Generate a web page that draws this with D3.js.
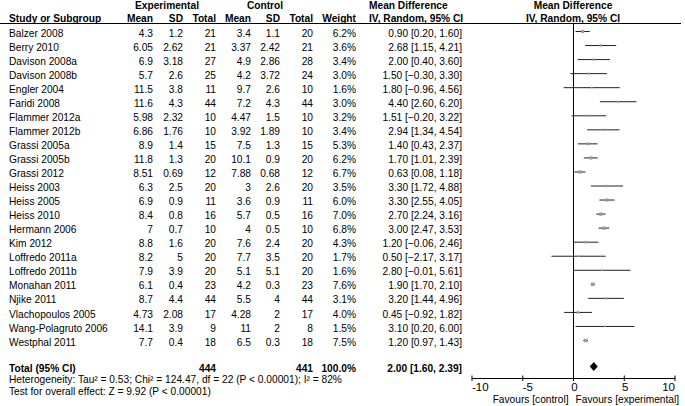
<!DOCTYPE html>
<html>
<head>
<meta charset="utf-8">
<script src="https://cdn.jsdelivr.net/npm/d3@7"></script>
<style>
  body { margin: 0; background: #fff; }
  text { font-family: "Liberation Sans", Arial, sans-serif; font-size: 10.2px; fill: #000; }
  .b { font-weight: bold; }
</style>
</head>
<body>
<div id="vis"></div>
<script>
"use strict";
const [width, height] = [685, 406];

// data
const studies = ["Balzer 2008", "Berry 2010", "Davison 2008a", "Davison 2008b", "Engler 2004", "Faridi 2008",
  "Flammer 2012a", "Flammer 2012b", "Grassi 2005a", "Grassi 2005b", "Grassi 2012", "Heiss 2003", "Heiss 2005",
  "Heiss 2010", "Hermann 2006", "Kim 2012", "Loffredo 2011a", "Loffredo 2011b", "Monahan 2011", "Njike 2011",
  "Vlachopoulos 2005", "Wang-Polagruto 2006", "Westphal 2011"];
const expMean = [4.3, 6.05, 6.9, 5.7, 11.5, 11.6, 5.98, 6.86, 8.9, 11.8, 8.51, 6.3, 6.9, 8.4, 7, 8.8, 8.2, 7.9, 6.1, 8.7, 4.73, 14.1, 7.7];
const expSD   = [1.2, 2.62, 3.18, 2.6, 3.8, 4.3, 2.32, 1.76, 1.4, 1.3, 0.69, 2.5, 0.9, 0.8, 0.7, 1.6, 5, 3.9, 0.4, 4.4, 2.08, 3.9, 0.4];
const expN    = [21, 21, 27, 25, 11, 44, 10, 10, 15, 20, 12, 20, 11, 16, 10, 20, 20, 20, 23, 44, 17, 9, 18];
const ctlMean = [3.4, 3.37, 4.9, 4.2, 9.7, 7.2, 4.47, 3.92, 7.5, 10.1, 7.88, 3, 3.6, 5.7, 4, 7.6, 7.7, 5.1, 4.2, 5.5, 4.28, 11, 6.5];
const ctlSD   = [1.1, 2.42, 2.86, 3.72, 2.6, 4.3, 1.5, 1.89, 1.3, 0.9, 0.68, 2.6, 0.9, 0.5, 0.5, 2.4, 3.5, 5.1, 0.3, 4, 2, 2, 0.3];
const ctlN    = [20, 21, 28, 24, 10, 44, 10, 10, 15, 20, 12, 20, 11, 16, 10, 20, 20, 20, 23, 44, 17, 8, 18];
const weight  = [6.2, 3.6, 3.4, 3.0, 1.6, 3.0, 3.2, 3.4, 5.3, 6.2, 6.7, 3.5, 6.0, 7.0, 6.8, 4.3, 1.7, 1.6, 7.6, 3.1, 4.0, 1.5, 7.5];
const md      = [0.90, 2.68, 2.00, 1.50, 1.80, 4.40, 1.51, 2.94, 1.40, 1.70, 0.63, 3.30, 3.30, 2.70, 3.00, 1.20, 0.50, 2.80, 1.90, 3.20, 0.45, 3.10, 1.20];
const ciLo    = [0.20, 1.15, 0.40, -0.30, -0.96, 2.60, -0.20, 1.34, 0.43, 1.01, 0.08, 1.72, 2.55, 2.24, 2.47, -0.06, -2.17, -0.01, 1.70, 1.44, -0.92, 0.20, 0.97];
const ciHi    = [1.60, 4.21, 3.60, 3.30, 4.56, 6.20, 3.22, 4.54, 2.37, 2.39, 1.18, 4.88, 4.05, 3.16, 3.53, 2.46, 3.17, 5.61, 2.10, 4.96, 1.82, 6.00, 1.43];
const totalN = [444, 441];
const totalWeight = 100.0;
const pooled = [2.00, 1.60, 2.39]; // md, lo, hi
const heterogeneity = "Heterogeneity: Tau\u00b2 = 0.53; Chi\u00b2 = 124.47, df = 22 (P < 0.00001); I\u00b2 = 82%";
const overall = "Test for overall effect: Z = 9.92 (P < 0.00001)";
const ticks = [-10, -5, 0, 5, 10];
const favours = ["Favours [control]", "Favours [experimental]"];

const rows = studies.map((s, i) => ({
  name: s, em: expMean[i], es: expSD[i], en: expN[i], cm: ctlMean[i], cs: ctlSD[i], cn: ctlN[i],
  w: weight[i], md: md[i], lo: ciLo[i], hi: ciHi[i]
}));

const svg = d3.select('#vis').append('svg')
  .attr('width', width).attr('height', height);

const x = d3.scaleLinear().domain([-10, 10]).range([472, 675]);
const y = d3.scaleLinear().domain([0, studies.length - 1]).range([33, 342]);
const sq = d3.scaleSqrt().domain([0, 8]).range([0, 3.6]);
const fmt2 = d3.format(".2f");
const ci = (m, l, h) => `${fmt2(m)} [${fmt2(l)}, ${fmt2(h)}]`;

// columns: right edges
const cols = [
  {key: 'em', x: 153, head: 'Mean'}, {key: 'es', x: 183, head: 'SD'}, {key: 'en', x: 216, head: 'Total'},
  {key: 'cm', x: 251, head: 'Mean'}, {key: 'cs', x: 280, head: 'SD'}, {key: 'cn', x: 313, head: 'Total'},
  {key: 'w', x: 356, head: 'Weight', f: v => d3.format(".1f")(v) + '%'},
  {key: 'ci', x: 462, f: (v, d) => ci(d.md, d.lo, d.hi)}
];

// header
const hd = svg.append('g');
hd.append('text').attr('class', 'b').attr('x', 167).attr('y', 8.5).attr('text-anchor', 'middle').text('Experimental');
hd.append('text').attr('class', 'b').attr('x', 265).attr('y', 8.5).attr('text-anchor', 'middle').text('Control');
hd.append('text').attr('class', 'b').attr('x', 369).attr('y', 8.5).text('Mean Difference');
hd.append('text').attr('class', 'b').attr('x', 573).attr('y', 8.5).attr('text-anchor', 'middle').text('Mean Difference');
hd.append('text').attr('class', 'b').attr('x', 9).attr('y', 21.5).text('Study or Subgroup');
cols.filter(c => c.head).forEach(c => {
  hd.append('text').attr('class', 'b').attr('x', c.x).attr('y', 21.5).attr('text-anchor', 'end').text(c.head);
});
hd.append('text').attr('class', 'b').attr('x', 369).attr('y', 21.5).text('IV, Random, 95% CI');
hd.append('text').attr('class', 'b').attr('x', 573).attr('y', 21.5).attr('text-anchor', 'middle').text('IV, Random, 95% CI');
svg.append('line').attr('x1', 0).attr('x2', 681).attr('y1', 23.5).attr('y2', 23.5)
  .attr('stroke', '#000').attr('stroke-width', 1);

// study rows
const g = svg.selectAll('g.row')
  .data(rows)
  .join('g')
    .attr('class', 'row')
    .attr('transform', (d, i) => `translate(0,${y(i)})`);
g.append('text').attr('x', 9).attr('y', 3.6).text(d => d.name);
cols.forEach(c => {
  g.append('text').attr('x', c.x).attr('y', 3.6).attr('text-anchor', 'end')
    .text(d => c.f ? c.f(d[c.key], d) : String(d[c.key]));
});

// zero line
svg.append('line').attr('x1', x(0)).attr('x2', x(0)).attr('y1', 23.5).attr('y2', 378)
  .attr('stroke', '#000').attr('stroke-width', 1);

// CIs and squares
g.append('line')
  .attr('x1', d => x(d.lo)).attr('x2', d => x(d.hi))
  .attr('y1', -1.5).attr('y2', -1.5)
  .attr('stroke', '#222').attr('stroke-width', 1);
g.append('rect')
  .attr('x', d => x(d.md) - sq(d.w) / 2)
  .attr('y', d => -1.5 - sq(d.w) / 2)
  .attr('width', d => sq(d.w)).attr('height', d => sq(d.w))
  .attr('fill', '#9a9a9a');

// total row
const yt = 368;
svg.append('text').attr('class', 'b').attr('x', 9).attr('y', yt + 3.6).text('Total (95% CI)');
svg.append('text').attr('class', 'b').attr('x', 216).attr('y', yt + 3.6).attr('text-anchor', 'end').text(totalN[0]);
svg.append('text').attr('class', 'b').attr('x', 313).attr('y', yt + 3.6).attr('text-anchor', 'end').text(totalN[1]);
svg.append('text').attr('class', 'b').attr('x', 356).attr('y', yt + 3.6).attr('text-anchor', 'end').text(d3.format(".1f")(totalWeight) + '%');
svg.append('text').attr('class', 'b').attr('x', 462).attr('y', yt + 3.6).attr('text-anchor', 'end').text(ci(...pooled));
svg.append('path')
  .attr('d', `M${x(pooled[1])},${yt - 1.5} L${x(pooled[0])},${yt - 6} L${x(pooled[2])},${yt - 1.5} L${x(pooled[0])},${yt + 3} Z`)
  .attr('fill', '#000');

svg.append('text').attr('x', 9).attr('y', 383).text(heterogeneity);
svg.append('text').attr('x', 9).attr('y', 395).text(overall);

// axis
const ax = svg.append('g').attr('transform', 'translate(0,378.5)');
ax.append('line').attr('x1', x(-10)).attr('x2', x(10)).attr('stroke', '#000');
ax.selectAll('line.t').data(ticks).join('line').attr('class', 't')
  .attr('x1', d => x(d)).attr('x2', d => x(d)).attr('y1', -3).attr('y2', 2.5).attr('stroke', '#000');
ax.selectAll('text.t').data(ticks).join('text').attr('class', 't')
  .attr('x', d => x(d)).attr('y', 12.5)
  .attr('text-anchor', (d, i) => i === 0 ? 'start' : i === ticks.length - 1 ? 'end' : 'middle')
  .attr('dx', d => d === -5 ? 5 : d === 0 || d === 5 ? 1 : 0)
  .style('font-size', '11.5px')
  .text(d => d);
svg.append('text').attr('x', x(0) - 5).attr('y', 402.5).attr('text-anchor', 'end').text(favours[0]);
svg.append('text').attr('x', x(0) + 2).attr('y', 402.5).text(favours[1]);
</script>
</body>
</html>
